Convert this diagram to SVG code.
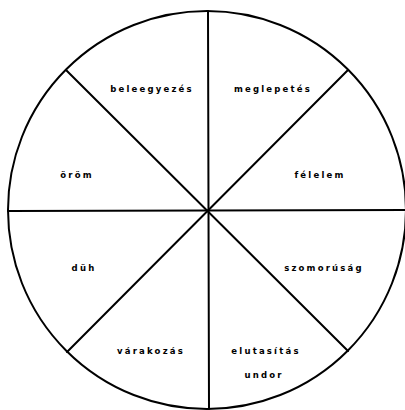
<svg xmlns="http://www.w3.org/2000/svg" width="405" height="410" viewBox="0 0 405 410">
<style>
.ln{stroke:#000;stroke-width:2;fill:none;stroke-linecap:round}
.t{font-family:"DejaVu Sans",sans-serif;font-weight:bold;font-size:8.5px;letter-spacing:2.2px;text-anchor:middle;fill:#000}
</style>
<rect width="405" height="410" fill="#fff"/>
<g id="connectors">
<circle class="ln" cx="207" cy="210" r="199"/>
<line class="ln" x1="208" y1="11" x2="209" y2="409"/>
<line class="ln" x1="8" y1="211" x2="406" y2="210"/>
<line class="ln" x1="66" y1="70" x2="348" y2="351"/>
<line class="ln" x1="348" y1="70" x2="67" y2="352"/>
</g>
<g id="beleegyezes"><text class="t" x="152" y="92">beleegyezés</text></g>
<g id="meglepetes"><text class="t" x="273" y="92">meglepetés</text></g>
<g id="orom"><text class="t" x="77" y="178">öröm</text></g>
<g id="felelem"><text class="t" x="320" y="178">félelem</text></g>
<g id="duh"><text class="t" x="84" y="271">düh</text></g>
<g id="szomorusag"><text class="t" x="324" y="271">szomorúság</text></g>
<g id="varakozas"><text class="t" x="151" y="354">várakozás</text></g>
<g id="elutasitas"><text class="t" x="266" y="354">elutasítás</text></g>
<g id="undor"><text class="t" x="264" y="378">undor</text></g>
</svg>
